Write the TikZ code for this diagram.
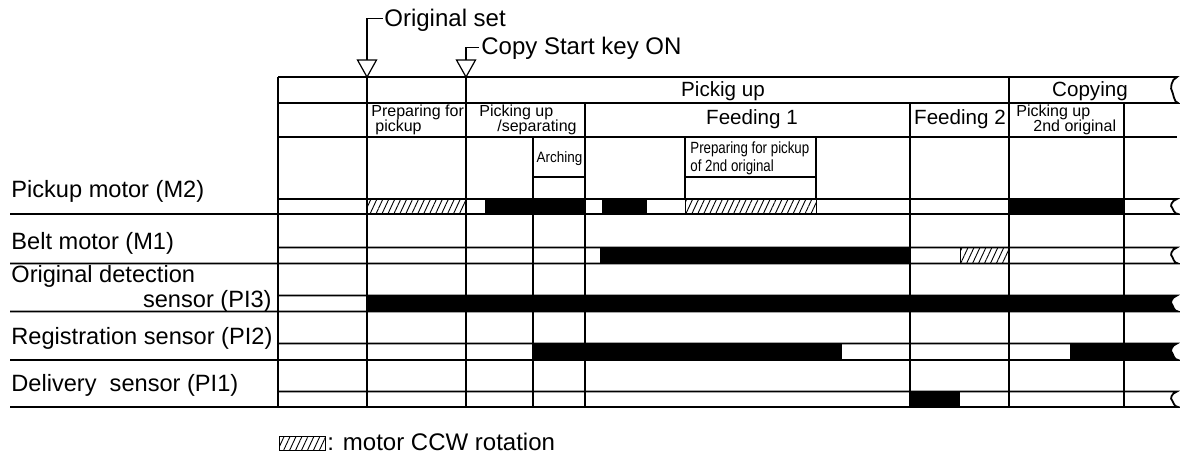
\documentclass[tikz,border=0pt]{standalone}
\usepackage{fontspec}
\setmainfont{Liberation Sans}
\newfontfamily\narrowfont[FakeStretch=0.82]{Liberation Sans}
\newfontfamily\semifont[FakeStretch=0.9]{Liberation Sans}
\usetikzlibrary{calc,patterns.meta}
\tikzset{
    timing chart/.style = {x=0.5pt, y=-0.5pt},
    hline/.style        = {line width=0.9pt},
    vline/.style        = {line width=0.55pt},
    on bar/.style       = {fill=black},
    ccw bar/.style      = {draw, line width=0.5pt,
                           pattern={Lines[angle=65, distance=2.7pt,
                                          line width=0.45pt]}},
    trigger/.style      = {draw, line width=0.6pt},
    sigtext/.style      = {inner sep=0pt, font=\fontsize{11.8}{14}\selectfont},
    event/.style        = {inner sep=0pt, font=\fontsize{12}{14}\selectfont},
    phase/.style        = {inner sep=0pt, font=\fontsize{10.3}{12}\selectfont},
    substep/.style      = {inner sep=0pt, font=\fontsize{8}{9}\selectfont},
    narrow step/.style  = {inner sep=0pt,
                           font=\narrowfont\fontsize{8.1}{10}\selectfont},
    arch step/.style    = {inner sep=0pt,
                           font=\semifont\fontsize{7.5}{9}\selectfont},
    break end/.style 2 args = {insert path={
        .. controls (1171,{#1+2}) and (1170,{(#1+#2)/2}) .. (1172,{(#1+#2)/2+1})
        .. controls (1173,{(#1+#2)/2+2}) and (1174,#2) .. (1178,#2)}}
}

\begin{document}
\begin{tikzpicture}[timing chart]
\useasboundingbox (0,0) rectangle (1180,458);

% Signal bars first, grid lines go on top of them
% Pickup motor (M2)
\draw[ccw bar] (367,199) rectangle (466,214);
\fill[on bar]  (485,199) rectangle (585,214);
\fill[on bar]  (602,199) rectangle (647,214);
\draw[ccw bar] (685,199) rectangle (816,214);
\fill[on bar]  (1009,199) rectangle (1124,214);
% Belt motor (M1)
\fill[on bar]  (600,247.5) rectangle (910,263.5);
\draw[ccw bar] (960,247.5) rectangle (1009,263.5);
% Original detection sensor (PI3)
\fill[on bar]  (367,295.5) -- (1177,295.5) [break end={295.5}{311.5}]
    -- (367,311.5) -- cycle;
% Registration sensor (PI2)
\fill[on bar]  (533,343.5) rectangle (842,360);
\fill[on bar]  (1070,343.5) -- (1177,343.5) [break end={343.5}{360}]
    -- (1070,360) -- cycle;
% Delivery sensor (PI1)
\fill[on bar]  (910,391.5) rectangle (960,407);

% Header rows
\draw[hline] (278,77) -- (1177,77) [break end={77}{103}] -- (278,103);
\draw[hline] (278,137) -- (1177,137);
\draw[vline] (533,177) -- (585,177);
\draw[vline] (685,177) -- (816,177);
\foreach \x in {685, 816}
    \draw[vline] (\x,137) -- (\x,199);

% Signal bands, each closed at the right by a break mark
\foreach \t/\b in {199/214, 247.5/263.5, 295.5/311.5, 343.5/360, 391.5/407}
    \draw[hline] (278,\t) -- (1177,\t) [break end={\t}{\b}] -- (10,\b);

% Time divisions
\foreach \x/\y in {278/77, 367/77, 466/77, 533/137, 585/103,
                   910/103, 1009/77, 1124/103}
    \draw[vline] (\x,\y) -- (\x,407);

% Trigger events
\coordinate (origmark) at (367,60);
\coordinate (copymark) at (466,60);
\foreach \m in {origmark, copymark}
    \draw[trigger] ($(\m)+(-9.5,0)$) -- ($(\m)+(9.5,0)$) -- ($(\m)+(0,17)$) -- cycle;
\node[event, anchor=base west] (origset) at (384,27) {Original set};
\node[event, anchor=base west] (copystart) at (481,55) {Copy Start key ON};
\draw[trigger] (origmark) |- ($(origset.west)+(-1.5,-2.5)$);
\draw[trigger] (copymark) |- ($(copystart.west)+(-2.5,-1.5)$);

% Phase texts
\node[phase, anchor=base] (pickig)  at (723,97)  {Pickig up};
\node[phase, anchor=base] (copying) at (1090,97) {Copying};
\node[phase, anchor=base] (feed1)   at (752,125) {Feeding 1};
\node[phase, anchor=base] (feed2)   at (960,125) {Feeding 2};
\node[substep, anchor=base west] (prepa)   at (371,116.5)  {Preparing for};
\node[substep, anchor=base west] (prepb)   at (375,131.5)  {pickup};
\node[substep, anchor=base west] (sepa)    at (479,116.5)  {Picking up};
\node[substep, anchor=base west] (sepb)    at (497,132)    {/separating};
\node[substep, anchor=base west] (seconda) at (1016,116.5) {Picking up};
\node[substep, anchor=base west] (secondb) at (1033,131.5) {2nd original};
\node[arch step, anchor=base] (arching) at (559.5,163) {Arching};
\node[narrow step, anchor=base west] (prepsa) at (690,153.5) {Preparing for pickup};
\node[narrow step, anchor=base west] (prepsb) at (690,172) {of 2nd original};

% Signal names
\node[sigtext, anchor=base west] (pickup)   at (11,198) {Pickup motor (M2)};
\node[sigtext, anchor=base west] (belt)     at (11,250) {Belt motor (M1)};
\node[sigtext, anchor=base west] (origdeta) at (11,283) {Original detection};
\node[sigtext, anchor=base east] (origdetb) at (272,308) {sensor (PI3)};
\node[sigtext, anchor=base west] (regist)   at (11,345) {Registration sensor (PI2)};
\node[sigtext, anchor=base west] (delivery) at (11,392) {Delivery~ sensor (PI1)};

% Legend
\draw[ccw bar] (279,437) rectangle (325,451);
\node[event, anchor=base west] (legend) at (327,451) {: motor CCW rotation};

\end{tikzpicture}
\end{document}
